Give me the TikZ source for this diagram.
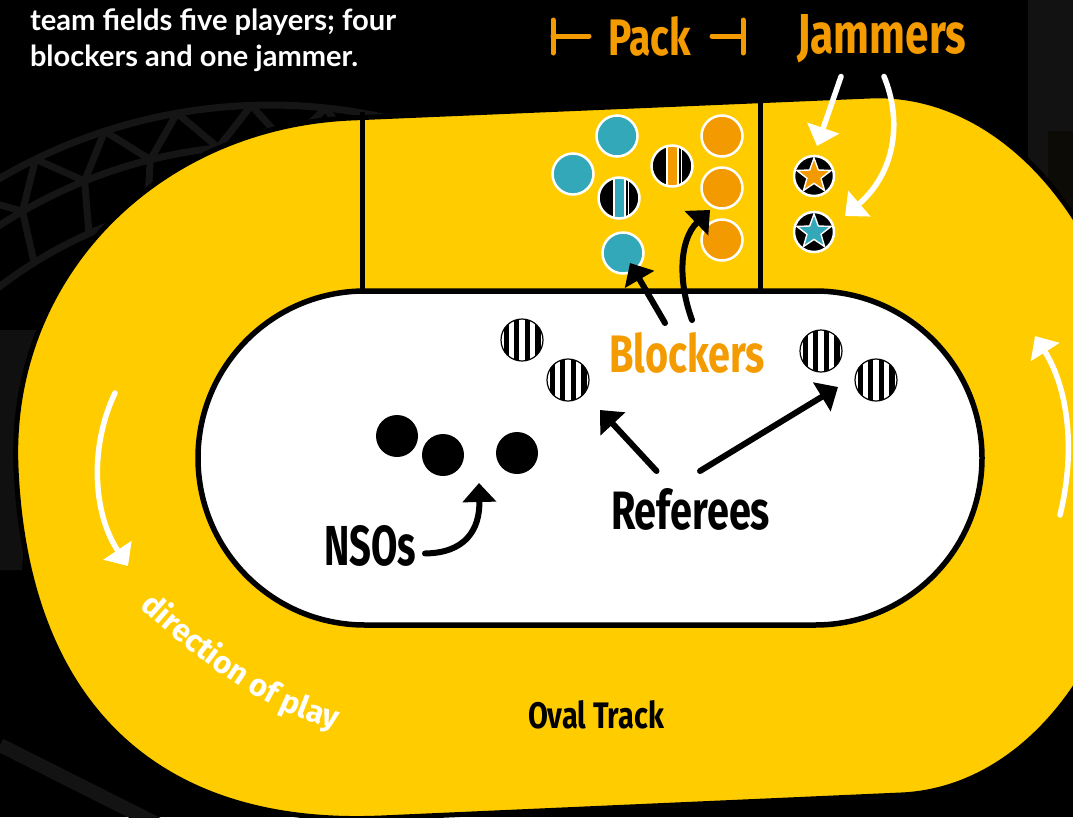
\documentclass[tikz,border=0pt]{standalone}
\usepackage{fontspec}
\usepackage{graphicx}
\usetikzlibrary{arrows.meta,decorations.text}
\newfontfamily\lblfont{Fira Sans}
\newfontfamily\introfont{Lato}
\newfontfamily\dirfontfam{Fira Sans}
\newcommand\dirfont{\dirfontfam\bfseries\fontsize{31pt}{31pt}\selectfont}
\newcommand\lbl[3]{\resizebox{#1pt}{#2pt}{\lblfont\bfseries #3}}
\definecolor{trackyellow}{HTML}{FFCC00}
\definecolor{packorange}{HTML}{F49B00}
\definecolor{teamteal}{HTML}{33A8B8}
\definecolor{teamorange}{HTML}{F39A00}
\definecolor{trussgrey}{HTML}{151515}
\definecolor{bgA}{HTML}{121212}
\definecolor{bgB}{HTML}{0D0B06}
\definecolor{bgC}{HTML}{101010}
\definecolor{bgD}{HTML}{131313}
\begin{document}
\begin{tikzpicture}[x=1pt,y=-1pt,
  lab/.style={anchor=base west, inner sep=0pt, outer sep=0pt},
  player/.style={circle, minimum size=41pt, inner sep=0pt, fill=#1, draw=white, line width=2.5pt},
  stripeplayer/.style={circle, minimum size=41pt, inner sep=0pt, fill=black, draw=white, line width=2.5pt,
    path picture={
      \fill[white] ([xshift=-6.5pt]path picture bounding box.south) rectangle ([xshift=6.5pt]path picture bounding box.north);
      \fill[#1] ([xshift=-4.5pt]path picture bounding box.south) rectangle ([xshift=4.5pt]path picture bounding box.north);
      \fill[white] ([xshift=8.5pt]path picture bounding box.south) rectangle ([xshift=9.8pt]path picture bounding box.north);
    }},
  refc/.style={circle, minimum size=42pt, inner sep=0pt, fill=white, draw=black, line width=1.2pt,
    path picture={
      \foreach \dx in {-15.8,-5.3,5.3,15.8}{
        \fill[black] ([xshift={(\dx-2.7)*1pt}]path picture bounding box.south) rectangle ([xshift={(\dx+2.7)*1pt}]path picture bounding box.north);}
    }},
  nsodot/.style={circle, minimum size=42pt, inner sep=0pt, fill=black},
  jamc/.style={circle, minimum size=40pt, inner sep=0pt, fill=black, draw=white, line width=2.5pt},
  jamstar/.pic={\filldraw[fill=#1, draw=white, line width=1.4pt]
      (-90:18) -- (-54:7.4) -- (-18:18) -- (18:7.4) -- (54:18) -- (90:7.4) -- (126:18) -- (162:7.4) -- (198:18) -- (234:7.4) -- cycle;},
  blackarrow/.style={draw=black, line width=6pt, line cap=round, -{Triangle[length=19pt,width=33pt]}},
  whitearrow/.style={draw=white, line width=5.5pt, line cap=round, -{Triangle[length=19pt,width=33pt]}},
  bracketln/.style={draw=packorange, line width=5pt, line cap=round},
  truss/.style={draw=trussgrey, line width=7pt}
]
\useasboundingbox (0,0) rectangle (1073,817);
\fill[black] (0,0) rectangle (1073,817);

% background texture
\fill[bgA] (1028,0) rectangle (1073,320);
\fill[bgB] (1048,131) rectangle (1073,320);
\fill[bgC] (0,330) -- (40,330) -- (22,570) -- (0,570) -- cycle;
\draw[bgD, line width=14pt] (0,745) -- (165,828);
\draw[truss] plot[domain=-132:-74, samples=50] ({270+535*cos(\x)},{640+535*sin(\x)});
\draw[truss] plot[domain=-132:-74, samples=50] ({270+495*cos(\x)},{640+495*sin(\x)});
\draw[truss] plot[domain=-132:-74, samples=50] ({270+445*cos(\x)},{640+445*sin(\x)});
\foreach \a in {-132,-124,...,-76}{
  \draw[truss] ({270+535*cos(\a)},{640+535*sin(\a)}) -- ({270+495*cos(\a+4)},{640+495*sin(\a+4)}) -- ({270+535*cos(\a+8)},{640+535*sin(\a+8)});
  \draw[truss] ({270+495*cos(\a+4)},{640+495*sin(\a+4)}) -- ({270+445*cos(\a+2)},{640+445*sin(\a+2)});
}

% track
\filldraw[fill=trackyellow, draw=black, line width=5pt]
  (351,118) -- (870,96)
  .. controls (1010.7,89.9) and (1131.9,241.1) .. (1140.3,434.2)
  .. controls (1148.7,627.3) and (1041.7,788.9) .. (901,795)
  -- (381,818)
  .. controls (151.2,828) and (26,698) .. (16,468)
  .. controls (7.6,275.2) and (158.2,126.4) .. cycle;
\draw[line width=5pt] (362,112) -- (362,292);
\draw[line width=5pt] (760,95) -- (760,292);
\filldraw[fill=white, draw=black, line width=5.5pt, rounded corners=167pt] (198,291) rectangle (982,625);

% intro text
\node[lab, text=white] (intro1) at (30,30) {\resizebox{366pt}{!}{\introfont\bfseries team fields five players; four}};
\node[lab, text=white] (intro2) at (30,66) {\resizebox{328pt}{!}{\introfont\bfseries blockers and one jammer.}};

% headings
\draw[bracketln] (553,20) -- (553,53) (553,36) -- (589,36);
\draw[bracketln] (712,36) -- (743,36) (743,20) -- (743,53);
\node[lab, text=packorange] (pack) at (608,55) {\lbl{83}{39}{Pack}};
\node[lab, text=packorange] (jammers) at (797,53) {\lbl{169}{39}{Jammers}};

% pack
\node[player=teamteal] (t1) at (617,136) {};
\node[player=teamteal] (t2) at (573,174) {};
\node[player=teamteal] (t3) at (623,253) {};
\node[stripeplayer=teamteal] (t4) at (619,198) {};
\node[stripeplayer=teamorange] (o4) at (672,166) {};
\node[player=teamorange] (o1) at (722,136) {};
\node[player=teamorange] (o2) at (722,188) {};
\node[player=teamorange] (o3) at (722,240) {};

% jammers
\node[jamc] (j1) at (814,176) {};
\node[jamc] (j2) at (814,232) {};
\pic at (j1.center) {jamstar=teamorange};
\pic at (j2.center) {jamstar=teamteal};

% referees and NSOs
\node[refc] (r1) at (522,340) {};
\node[refc] (r2) at (568,380) {};
\node[refc] (r3) at (821,351) {};
\node[refc] (r4) at (876,380) {};
\node[nsodot] (n1) at (397,436) {};
\node[nsodot] (n2) at (443,455) {};
\node[nsodot] (n3) at (517,453) {};

% labels
\node[lab, text=packorange] (blockers) at (609,372) {\lbl{156}{40}{Blockers}};
\node[lab, text=black] (referees) at (611,529) {\lbl{159}{41}{Referees}};
\node[lab, text=black] (nsos) at (324,565) {\lbl{92}{40}{NSOs}};
\node[lab, text=black] (oval) at (528,728) {\lbl{136}{28}{Oval Track}};

% arrow tips
\coordinate (jtipA) at (817,146);
\coordinate (jtipB) at (845,216);
\coordinate (btipA) at (630,263);
\coordinate (btipB) at (710,210);
\coordinate (rtipA) at (600,410);
\coordinate (rtipB) at (838,387);
\coordinate (ntip) at (479,483);

\draw[whitearrow] ([shift={(-40.5,14)}]jammers.south) -- (jtipA);
\draw[whitearrow] ([shift={(2.5,14)}]jammers.south) .. controls (902,120) and (896,172) .. (jtipB);
\draw[blackarrow] ([shift={(-22,-9)}]blockers.north) -- (btipA);
\draw[blackarrow] ([shift={(5,-12)}]blockers.north) .. controls (678,282) and (679,240) .. (btipB);
\draw[blackarrow] ([shift={(-34,-17)}]referees.north) -- (rtipA);
\draw[blackarrow] ([shift={(9.5,-17)}]referees.north) -- (rtipB);
\draw[blackarrow] ([shift={(9,8)}]nsos.east) .. controls (465,553) and (480,530) .. (ntip);

% direction of play
\coordinate (dlA) at (115,393);
\coordinate (dlB) at (128,566);
\coordinate (drA) at (1060,515);
\coordinate (drB) at (1035,336);
\draw[whitearrow] (dlA) .. controls (90,445) and (92,512) .. (dlB);
\draw[whitearrow] (drA) .. controls (1076,450) and (1068,388) .. (drB);
\path[decorate, decoration={text along path, text align=left,
  text={|\dirfont\color{white}|direction of play}}]
  (140,607) .. controls (200,661) and (267,716) .. (345,731);
\end{tikzpicture}
\end{document}
